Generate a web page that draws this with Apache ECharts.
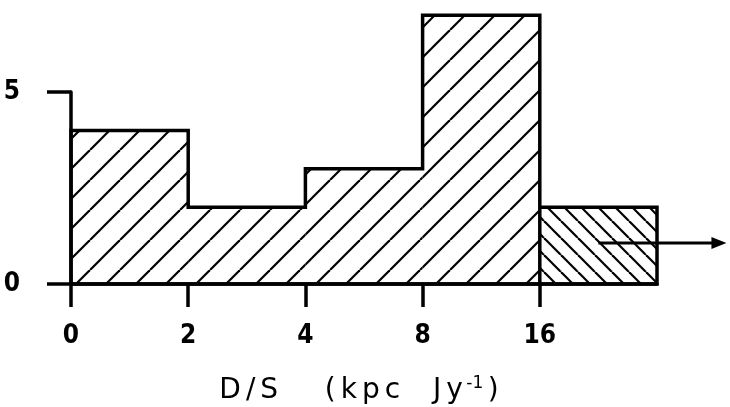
<!DOCTYPE html>
<html>
<head>
<meta charset="utf-8">
<script src="https://cdn.jsdelivr.net/npm/echarts@6/dist/echarts.min.js"></script>
<style>html,body{margin:0;padding:0;background:#fff;}#c{width:730px;height:407px;}</style>
</head>
<body>
<div id="c"></div>
<script>
// ---- data ----
const binLabels = ['0', '2', '4', '8', '16'];   // bin edge labels (D/S, kpc Jy^-1)
const counts = [4, 2, 3, 7, 2];                  // number per bin (last bin: D/S > 16, lower limits)
const yTicks = [0, 5];
const arrowFrom = [4.5, 1.07];                   // arrow on last (open-ended) bin
const arrowTo = [5.55, 1.07];
const xTitleMain = 'D/S   (kpc  Jy';
const xTitleSup = '-1';
const xTitleEnd = ')';

// hatch patterns
function hatch(size, dir, lw) {
  const c = document.createElement('canvas');
  c.width = size; c.height = size;
  const g = c.getContext('2d');
  g.strokeStyle = '#000'; g.lineWidth = lw;
  for (let k = -1; k <= 1; k++) {
    g.beginPath();
    if (dir === '/') { g.moveTo(k * size, size); g.lineTo(k * size + size, 0); }
    else { g.moveTo(k * size, 0); g.lineTo(k * size + size, size); }
    g.stroke();
  }
  return c;
}
const fwd = hatch(30, '/', 2.2);
const back = hatch(17, '\\', 2.2);

// bar rectangles from the counts (bin i spans index i..i+1)
const barData = counts.map((v, i) => [i, i + 1, v, i === counts.length - 1 ? 1 : 0]);

// outline of the histogram
const outline = [[0, 0], [0, counts[0]]];
for (let i = 0; i < counts.length - 1; i++) {
  outline.push([i + 1, counts[i]]);
  if (i + 1 === counts.length - 1) { outline.push([i + 1, 0]); }
  outline.push([i + 1, counts[i + 1]]);
}
outline.push([counts.length, counts[counts.length - 1]]);
outline.push([counts.length, 0]);
outline.push([0, 0]);

// letter-spaced title built as rich text (one token per character)
const spaced = s => s.split('').map(ch => '{l|' + ch + '}').join('');
const titleRich = spaced(xTitleMain) + '{s|' + xTitleSup + '}' + spaced(xTitleEnd);

const digitFont = "'Liberation Sans Narrow','DejaVu Sans Condensed','Roboto Condensed','Liberation Sans',sans-serif";
const titleFont = "'DejaVu Sans',sans-serif";

const chart = echarts.init(document.getElementById('c'));
chart.setOption({
  animation: false,
  backgroundColor: '#fff',
  grid: { left: 71, right: 73, top: 92, bottom: 123, outerBoundsMode: 'none', containLabel: false },
  xAxis: {
    type: 'value', min: 0, max: counts.length, interval: 1,
    splitLine: { show: false },
    axisLine: { show: true, lineStyle: { color: '#000', width: 3.5 } },
    axisTick: { show: true, length: 23, lineStyle: { color: '#000', width: 3.5 },
      customValues: binLabels.map((_, i) => i) },
    axisLabel: { show: true, margin: 39, color: '#000', fontFamily: digitFont, fontWeight: 'bold', fontSize: 26,
      customValues: binLabels.map((_, i) => i),
      formatter: v => binLabels[Math.round(v)] },
    name: titleRich,
    nameLocation: 'middle', nameGap: 91,
    nameTextStyle: {
      padding: [0, 10, 0, 0],
      rich: {
        l: { fontFamily: titleFont, fontSize: 28, color: '#000', padding: [0, 2.5, 0, 2.5] },
        s: { fontFamily: titleFont, fontSize: 17, color: '#000', verticalAlign: 'top', padding: [0, 2, 14, 1] }
      }
    }
  },
  yAxis: {
    type: 'value', min: yTicks[0], max: yTicks[yTicks.length - 1], interval: 5,
    splitLine: { show: false },
    axisLine: { show: true, lineStyle: { color: '#000', width: 3.5 } },
    axisTick: { show: true, length: 24, lineStyle: { color: '#000', width: 3.5 } },
    axisLabel: { margin: 51, color: '#000', fontFamily: digitFont, fontWeight: 'bold', fontSize: 26,
      formatter: v => String(v) }
  },
  series: [
    {
      type: 'custom', clip: false, z: 2,
      data: barData,
      renderItem: (params, api) => {
        const p0 = api.coord([api.value(0), api.value(2)]);
        const p1 = api.coord([api.value(1), 0]);
        return {
          type: 'rect',
          shape: { x: p0[0], y: p0[1], width: p1[0] - p0[0], height: p1[1] - p0[1] },
          style: { fill: { image: api.value(3) ? back : fwd, repeat: 'repeat' }, stroke: null }
        };
      }
    },
    {
      type: 'line', clip: false, z: 3, symbol: 'none', silent: true,
      data: outline,
      lineStyle: { color: '#000', width: 3.5, join: 'miter' }
    },
    {
      type: 'custom', clip: false, z: 4,
      data: [[arrowFrom[0], arrowFrom[1], arrowTo[0], arrowTo[1]]],
      renderItem: (params, api) => {
        const a = api.coord([api.value(0), api.value(1)]);
        const b = api.coord([api.value(2), api.value(3)]);
        return {
          type: 'group',
          children: [
            { type: 'line', shape: { x1: a[0], y1: a[1], x2: b[0] - 6, y2: b[1] }, style: { stroke: '#000', lineWidth: 3 } },
            { type: 'polygon', shape: { points: [[b[0] + 5, b[1]], [b[0] - 10, b[1] - 6], [b[0] - 10, b[1] + 6]] }, style: { fill: '#000' } }
          ]
        };
      }
    }
  ]
});
</script>
</body>
</html>
